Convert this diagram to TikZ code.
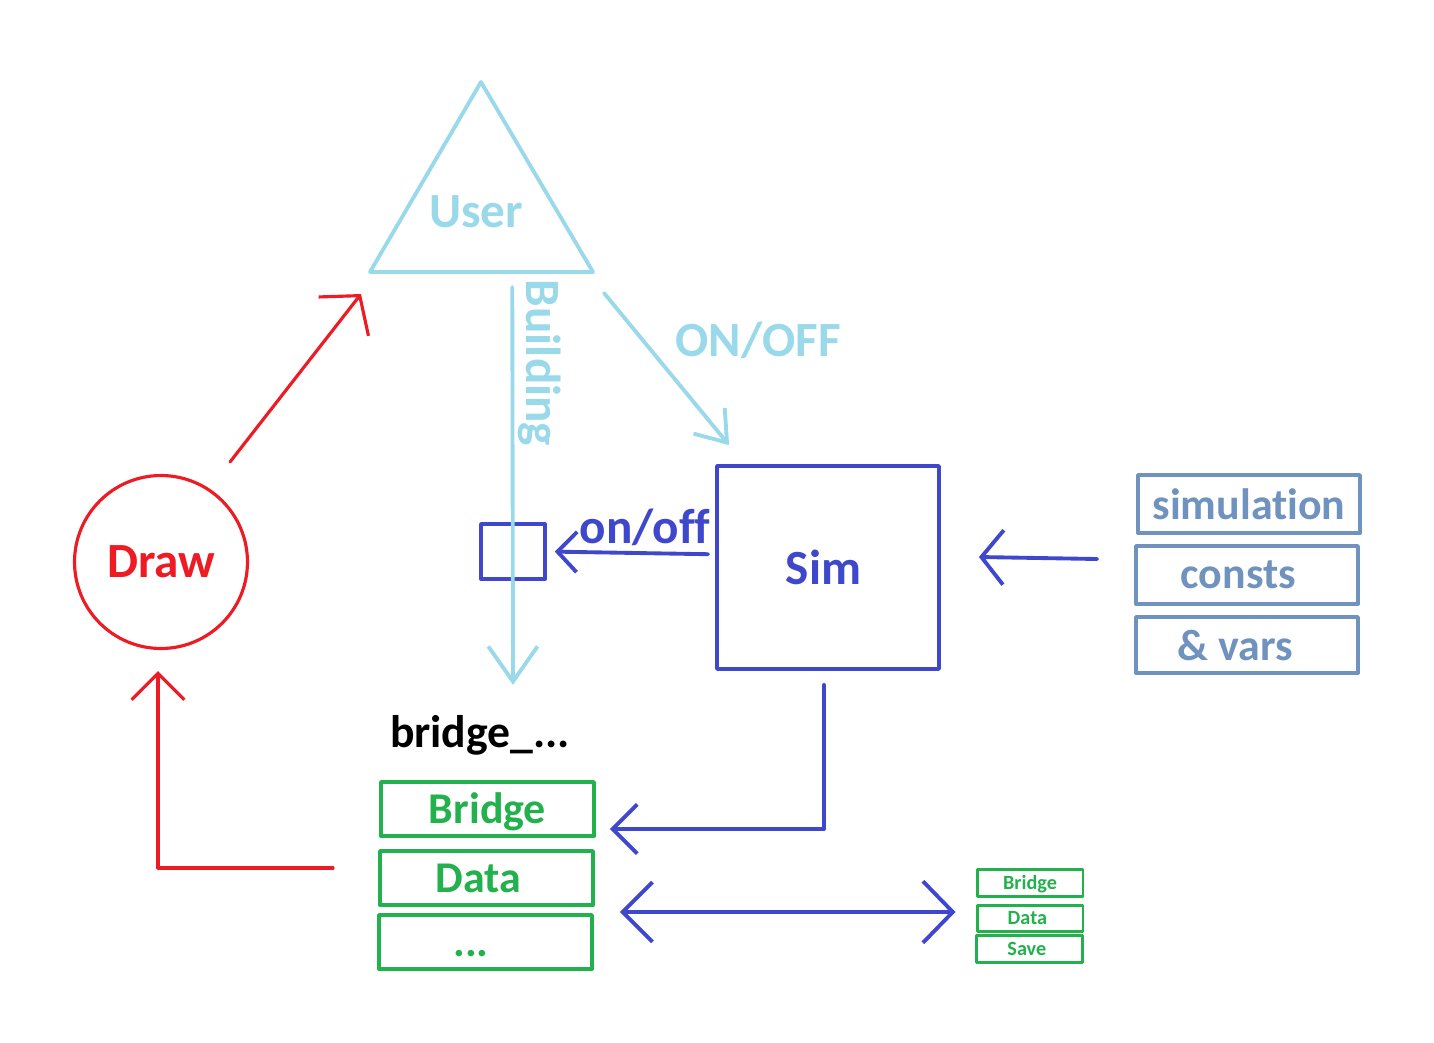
\documentclass[tikz,border=0pt]{standalone}
\usepackage{fontspec}
\setmainfont{Carlito}[Ligatures=NoCommon]
\usetikzlibrary{arrows.meta,positioning,calc}

\definecolor{userblue}{RGB}{153,217,234}
\definecolor{simblue}{RGB}{63,72,204}
\definecolor{parblue}{RGB}{112,146,190}
\definecolor{drawred}{RGB}{237,28,36}
\definecolor{datagreen}{RGB}{34,177,76}

\tikzset{
  every node/.style={font=\bfseries},
  big/.style={font=\bfseries\fontsize{28}{30}\selectfont},
  mid/.style={font=\bfseries\fontsize{25}{27}\selectfont},
  tiny/.style={font=\bfseries\fontsize{11.5}{13}\selectfont},
  barbed/.style 2 args={-{Straight Barb[length=#1,width=#2]}},
  simbox/.style={draw=simblue, line width=2.2pt, inner sep=0pt, text=simblue},
  parbox/.style={draw=parblue, line width=2.2pt, inner sep=0pt, text=parblue, mid,
    minimum width=4.44cm, minimum height=1.16cm},
  databox/.style={draw=datagreen, line width=2.2pt, inner sep=0pt, text=datagreen, mid,
    minimum width=4.26cm, minimum height=1.08cm, text height=16pt, text depth=0pt},
  savebox/.style={draw=datagreen, line width=1.7pt, inner sep=0pt, text=datagreen, tiny,
    minimum width=2.12cm, minimum height=0.54cm, text height=7.4pt, text depth=0pt}
}

\begin{document}
\begin{tikzpicture}[x=0.02cm, y=-0.02cm, line cap=round, line join=round]
  \useasboundingbox (0,0) rectangle (1434,1042);

  % user
  \coordinate (userTop) at (481,82);
  \coordinate (userL) at (370,272);
  \coordinate (userR) at (593,272);
  \draw[userblue, line width=2.2pt] (userTop) -- (userL) -- (userR) -- cycle;
  \node[big, text=userblue] (user) at (476,212) {User};

  % sim and its inputs
  \node[simbox, big, minimum width=4.44cm, minimum height=4.06cm] (sim) at (828,567.5) {\hspace{-5pt}Sim};
  \node[simbox, minimum width=1.28cm, minimum height=1.1cm] (switch) at (513,551.5) {};
  \node[parbox] (simulation) at (1249,504) {simulation};
  \node[parbox] (consts) at (1247,575) {\hspace{-10pt}consts};
  \node[parbox, minimum height=1.12cm] (vars) at (1247,645) {\hspace{-13.6pt}\& vars};

  % draw
  \node[circle, draw=drawred, line width=1.8pt, minimum size=3.46cm, big, text=drawred]
    (draw) at (161,562) {Draw};

  % bridge data
  \node[mid, font=\bfseries\fontsize{26}{28}\selectfont] (bridgelbl) at (480,735) {bridge\_...};
  \node[databox] (bridge) at (487.5,809) {Bridge};
  \node[databox] (data) at (486.5,878) {\hspace{-9.6pt}Data};
  \node[databox] (more) at (485.5,942) {\hspace{-16.4pt}...};
  \node[savebox] (sbridge) at (1030,883) {Bridge};
  \node[savebox, minimum height=0.52cm] (sdata) at (1030,918) {\hspace{-3pt}Data};
  \node[savebox] (ssave) at (1029.5,948.5) {\hspace{-3pt}Save};

  % connectors
  \draw[userblue, line width=2.2pt, barbed={20pt}{28pt}]
    ($(userL)!0.638!(userR)+(0,15)$) -- ($(bridgelbl.north)+(33,-24)$);
  \node[big, text=userblue, rotate=-90] (building) at (540,363) {Building};
  \draw[userblue, line width=2.2pt, barbed={16pt}{23pt}]
    ($(userR)+(11,21)$) -- ($(sim.north west)+(14,-19)$);
  \node[big, text=userblue] (onofflbl) at (758,340) {ON/OFF};

  \draw[simblue, line width=2.2pt, barbed={11pt}{23pt}, shorten <=4pt, shorten >=4.5pt]
    ([yshift=7.5pt]sim.west) -- (switch.east);
  \node[big, text=simblue] (onoff) at (645,527) {on/off};
  \draw[simblue, line width=2.2pt, barbed={12.5pt}{31pt}]
    ($(consts.west)+(-37,-16)$) -- ($(sim.east)+(38,-10.5)$);
  \draw[simblue, line width=2.2pt, barbed={14pt}{28pt}]
    ($(sim.south)+(-4,14)$) |- ($(bridge.east)+(14,20)$);
  \draw[simblue, line width=2.2pt, {Straight Barb[length=17pt,width=34pt]}-{Straight Barb[length=17pt,width=35pt]}]
    ($(data.east)+(25,34)$) -- ($(sdata.west)+(-20,-6)$);

  \draw[drawred, line width=1.8pt, barbed={15pt}{36pt}]
    ($(draw.center)+(69,-100)$) -- ($(userL)+(-9,22)$);
  \draw[drawred, line width=1.8pt, barbed={15pt}{30pt}]
    ($(data.west)+(-45,-10)$) -| ($(draw.south)+(-3,21)$);
\end{tikzpicture}
\end{document}
